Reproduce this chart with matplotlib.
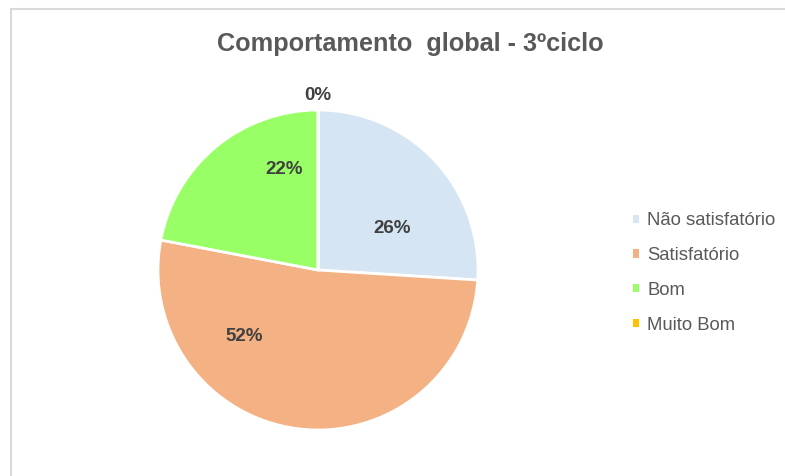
import numpy as np
import matplotlib.pyplot as plt
from matplotlib.patches import Patch, Rectangle

categorias = ['Não satisfatório', 'Satisfatório', 'Bom', 'Muito Bom']
valores = [26, 52, 22, 0]
cores = ['#D6E5F3', '#F4B183', '#99FF66', '#FFC000']
# posição dos rótulos (raio, ângulo em graus) tal como no gráfico original
pos_rotulos = [(0.53, 29.6), (0.62, 222.0), (0.66, 108.5), (1.09, 90.0)]

plt.rcParams['font.family'] = ['Liberation Sans', 'DejaVu Sans']

fig = plt.figure(figsize=(7.85, 4.76), dpi=100)

# moldura do gráfico
fig.patches.append(Rectangle((11 / 785, -0.1), 1.2, 1 - 9 / 476 + 0.1,
                             transform=fig.transFigure, fill=False,
                             edgecolor='#D9D9D9', linewidth=1.5))

ax = fig.add_axes([158 / 785, 46 / 476, 320 / 785, 320 / 476])
wedges, _ = ax.pie(valores, colors=cores, startangle=90, counterclock=False,
                   radius=1, wedgeprops={'edgecolor': 'white', 'linewidth': 2})
ax.set_xlim(-1, 1)
ax.set_ylim(-1, 1)
ax.set_aspect('equal')
ax.axis('off')

total = sum(valores)
for v, (r, ang) in zip(valores, pos_rotulos):
    a = np.deg2rad(ang)
    ax.text(r * np.cos(a), r * np.sin(a), f'{round(100 * v / total)}%',
            ha='center', va='center', fontsize=13.5, fontweight='bold',
            color='#404040', clip_on=False)

fig.text(410 / 785, 1 - 44 / 476, 'Comportamento  global - 3ºciclo',
         ha='center', va='center', fontsize=18.2, fontweight='bold',
         color='#595959')

handles = [Patch(facecolor=c, edgecolor='none') for c in cores]
leg = fig.legend(handles, categorias, loc='center left',
                 bbox_to_anchor=(633 / 785, 1 - 273 / 476), frameon=False,
                 fontsize=13.3, handlelength=0.33, handleheight=0.33,
                 handletextpad=0.45, labelspacing=0.96, borderpad=0,
                 borderaxespad=0)
for t in leg.get_texts():
    t.set_color('#595959')

fig.savefig('out.png', dpi=100)
